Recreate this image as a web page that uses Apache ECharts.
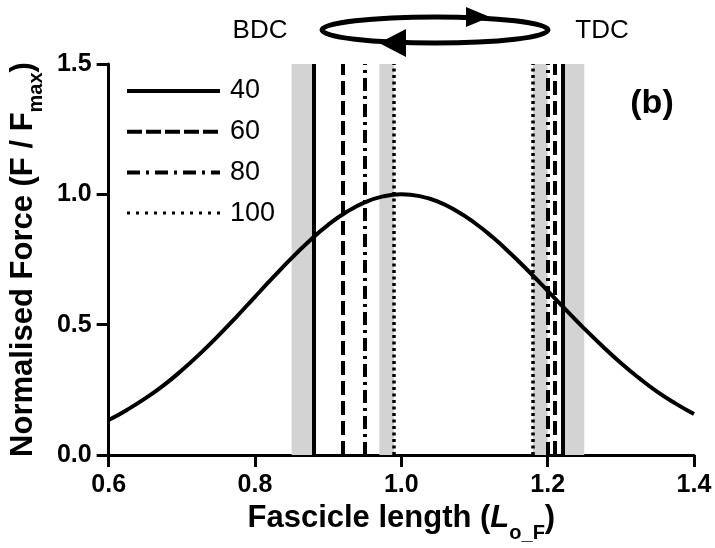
<!DOCTYPE html>
<html>
<head>
<meta charset="utf-8">
<script src="https://cdn.jsdelivr.net/npm/echarts@6/dist/echarts.min.js"></script>
<style>html,body{margin:0;padding:0;background:#fff}#c{width:715px;height:548px}</style>
</head>
<body>
<div id="c"></div>
<script>
// Force-length curve
const curveX = [0.600,0.625,0.650,0.675,0.700,0.725,0.750,0.775,0.800,0.825,0.850,0.875,0.900,0.925,0.950,0.975,1.000,
                1.025,1.050,1.075,1.100,1.125,1.150,1.175,1.200,1.225,1.250,1.275,1.300,1.325,1.350,1.375,1.400];
const curveY = [0.134,0.173,0.217,0.267,0.325,0.389,0.458,0.531,0.607,0.682,0.755,0.823,0.883,0.932,0.969,0.992,1.000,
                0.993,0.972,0.937,0.891,0.835,0.771,0.702,0.630,0.557,0.485,0.417,0.353,0.295,0.242,0.197,0.157];
// Speeds (legend) and fascicle length at BDC / TDC
const speeds = ['40','60','80','100'];
const bdcPos = [0.88,0.92,0.95,0.99];
const tdcPos = [1.22,1.21,1.20,1.18];
// Grey ranges
const bands = [[0.85,0.88],[0.97,0.99],[1.18,1.20],[1.22,1.25]];
// Axis ticks
const xTicks = [0.6,0.8,1.0,1.2,1.4];
const yTicks = [0.0,0.5,1.0,1.5];

const dashTypes = ['solid',[14,6],[13,5,3,5],[3,3.5]];
const lineWidths = [4,4,4,3.5];
const legendDash = ['solid',[15,4],[13,6,3,6],[3,6]];
const legendWidths = [4,4,4,3];
const FONT = '"Liberation Sans", Arial, sans-serif';

const chart = echarts.init(document.getElementById('c'), null, {renderer:'canvas'});

const series = [];
series.push({
  name:'bands', type:'line', data:[], z:1, silent:true,
  markArea:{silent:true, itemStyle:{color:'#d3d3d3'},
    data: bands.map(b=>[{xAxis:b[0]},{xAxis:b[1]}])}
});
speeds.forEach((s,i)=>{
  series.push({
    name:s, type:'line', data:[], symbol:'none', z:2,
    lineStyle:{color:'#000', width:lineWidths[i], type:dashTypes[i]},
    markLine:{silent:true, symbol:'none', label:{show:false},
      lineStyle:{color:'#000', width:lineWidths[i], type:dashTypes[i]},
      emphasis:{disabled:true},
      data:[{xAxis:bdcPos[i]},{xAxis:tdcPos[i]}]}
  });
});
series.push({
  name:'curve', type:'line', smooth:true, symbol:'none', z:3,
  lineStyle:{color:'#000', width:4},
  data: curveX.map((x,i)=>[x,curveY[i]])
});

chart.setOption({
  animation:false,
  grid:{left:105, right:21, top:64, bottom:92},
  xAxis:{type:'value', min:0.6, max:1.4, interval:0.2,
    axisLine:{lineStyle:{color:'#000', width:3}},
    axisTick:{length:12, lineStyle:{color:'#000', width:3}},
    splitLine:{show:false},
    axisLabel:{color:'#000', fontFamily:FONT, fontWeight:'bold', fontSize:25, margin:18,
      formatter:v=>v.toFixed(1)},
    name:'{b|Fascicle length (}{i|L}{s|o_F}{b|)}',
    nameLocation:'middle', nameGap:48,
    nameTextStyle:{rich:{
      b:{fontFamily:FONT, fontWeight:'bold', fontSize:31, color:'#000', lineHeight:34, verticalAlign:'top'},
      i:{fontFamily:FONT, fontWeight:'bold', fontStyle:'italic', fontSize:31, color:'#000', lineHeight:34, verticalAlign:'top'},
      s:{fontFamily:FONT, fontWeight:'bold', fontSize:20, color:'#000', lineHeight:20, padding:[20,0,0,0], verticalAlign:'top'}
    }}
  },
  yAxis:{type:'value', min:0, max:1.5, interval:0.5,
    axisLine:{show:true, lineStyle:{color:'#000', width:3}},
    axisTick:{show:true, length:12, lineStyle:{color:'#000', width:3}},
    splitLine:{show:false},
    axisLabel:{color:'#000', fontFamily:FONT, fontWeight:'bold', fontSize:25, margin:17,
      formatter:v=>v.toFixed(1)},
    name:'{b|Normalised Force (F / F}{s|max}{b|)}',
    nameLocation:'middle', nameGap:58, nameRotate:90,
    nameTextStyle:{rich:{
      b:{fontFamily:FONT, fontWeight:'bold', fontSize:31, color:'#000', lineHeight:34, verticalAlign:'top'},
      s:{fontFamily:FONT, fontWeight:'bold', fontSize:20, color:'#000', lineHeight:20, padding:[18,0,0,0], verticalAlign:'top'}
    }}
  },
  legend:{
    left:125, top:76, orient:'vertical', padding:0,
    itemWidth:93, itemHeight:14, itemGap:10.7,
    selectedMode:false,
    itemStyle:{opacity:0},
    textStyle:{color:'#000', fontFamily:FONT, fontSize:27, lineHeight:30, padding:[0,0,0,5]},
    data: speeds.map((s,i)=>({name:s, itemStyle:{opacity:0},
      lineStyle:{color:'#000', width:legendWidths[i], type:legendDash[i]}}))
  },
  graphic:[
    {type:'text', style:{text:'BDC', x:260, y:31, font:'26px '+FONT, fill:'#000', textAlign:'center', textVerticalAlign:'middle'}},
    {type:'text', style:{text:'TDC', x:602, y:31, font:'26px '+FONT, fill:'#000', textAlign:'center', textVerticalAlign:'middle'}},
    {type:'text', style:{text:'(b)', x:652, y:104, font:'bold 34px '+FONT, fill:'#000', textAlign:'center', textVerticalAlign:'middle'}},
    {type:'ellipse', shape:{cx:435, cy:30, rx:113, ry:13}, style:{fill:null, stroke:'#000', lineWidth:5}},
    {type:'polygon', shape:{points:[[466,7],[490,17],[466,27]]}, style:{fill:'#000'}},
    {type:'polygon', shape:{points:[[379,43],[406,29],[406,57]]}, style:{fill:'#000'}}
  ],
  series: series
});
</script>
</body>
</html>
